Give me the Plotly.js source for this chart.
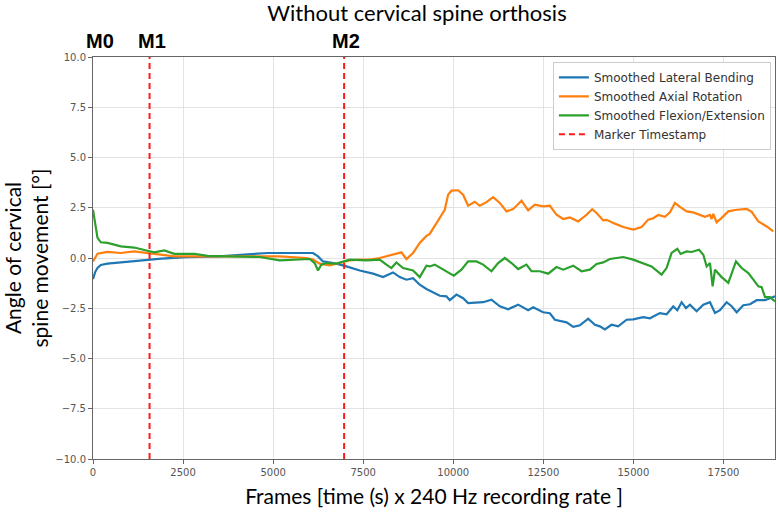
<!DOCTYPE html>
<html>
<head>
<meta charset="utf-8">
<script src="https://cdn.plot.ly/plotly-3.0.1.min.js"></script>
<style>html,body{margin:0;padding:0;background:#fff;}#chart{width:778px;height:514px;}</style>
</head>
<body>
<div id="chart"></div>
<script>
// ---- data (frames, degrees) ----
const blueX = [0,60,125,217,400,770,1144,1514,1900,2600,3500,4300,4850,5300,5829,6106,6245,6384,6662,6967,7403,7773,8051,8328,8514,8699,8884,9069,9255,9347,9486,9625,9810,9903,10088,10273,10412,10643,10828,11060,11292,11523,11801,12078,12217,12494,12681,12820,13005,13144,13329,13514,13745,13931,14069,14208,14393,14578,14810,14995,15273,15458,15736,15921,16107,16218,16338,16458,16569,16754,16940,17125,17264,17403,17588,17727,17866,18051,18236,18421,18653,18792,18931];
const blueY = [-1.05,-0.7,-0.5,-0.35,-0.28,-0.22,-0.17,-0.08,-0.03,0.04,0.08,0.18,0.25,0.25,0.25,0.25,0.08,-0.17,-0.25,-0.38,-0.62,-0.78,-0.95,-0.72,-0.95,-1.08,-1.0,-1.33,-1.54,-1.63,-1.74,-1.88,-1.91,-2.1,-1.82,-2.0,-2.24,-2.2,-2.2,-2.07,-2.4,-2.55,-2.32,-2.6,-2.45,-2.7,-2.75,-3.07,-3.15,-3.2,-3.43,-3.35,-3.02,-3.32,-3.4,-3.55,-3.32,-3.4,-3.07,-3.05,-2.94,-3.0,-2.74,-2.8,-2.41,-2.6,-2.2,-2.49,-2.32,-2.65,-2.32,-2.2,-2.74,-2.6,-2.2,-2.4,-2.7,-2.35,-2.3,-2.1,-2.1,-1.99,-1.91];

const orangeX = [0,60,125,400,770,1144,1514,1850,2255,2800,3600,4625,5180,5921,6106,6291,6569,6847,7125,7403,7681,7958,8328,8560,8699,8884,9069,9255,9347,9486,9625,9764,9856,9950,10134,10273,10412,10597,10736,10922,11106,11292,11478,11661,11894,12078,12264,12494,12681,12867,13050,13236,13467,13700,13856,13978,14161,14254,14486,14717,14994,15228,15411,15550,15689,15875,16014,16153,16292,16478,16661,16847,16986,17125,17172,17217,17311,17494,17633,17867,18144,18283,18467,18700,18883];
const orangeY = [-0.17,0.0,0.21,0.3,0.25,0.33,0.25,0.2,0.08,0.08,0.08,0.11,0.08,0.0,-0.08,-0.28,-0.37,-0.25,-0.12,-0.08,-0.08,0.0,0.16,0.28,-0.05,0.25,0.75,1.1,1.2,1.6,2.05,2.4,3.15,3.35,3.37,3.15,2.6,2.8,2.6,2.78,3.03,2.74,2.32,2.43,2.85,2.37,2.65,2.57,2.6,2.15,1.94,2.02,1.82,2.15,2.43,2.24,1.87,1.9,1.71,1.54,1.41,1.54,1.91,1.98,2.14,2.05,2.27,2.74,2.54,2.32,2.27,2.14,2.05,2.14,1.94,2.2,1.77,2.07,2.32,2.4,2.44,2.3,1.82,1.57,1.32];

const greenX = [0,60,125,217,403,773,1144,1514,1700,1977,2255,2811,3181,3736,4292,4625,5180,5736,6014,6153,6245,6338,6477,6755,6967,7125,7588,7958,8143,8282,8421,8606,8884,9069,9255,9347,9486,9718,10014,10227,10412,10643,10828,11060,11245,11430,11616,11801,12032,12171,12403,12634,12866,13051,13329,13560,13792,13977,14162,14347,14717,14994,15272,15503,15781,15920,16060,16218,16310,16477,16616,16820,16940,17033,17125,17199,17264,17449,17634,17727,17847,18005,18190,18329,18468,18560,18653,18792,18931];
const greenY = [2.4,1.7,1.0,0.78,0.75,0.58,0.52,0.36,0.28,0.38,0.21,0.21,0.11,0.08,0.05,0.05,-0.12,-0.08,-0.05,-0.25,-0.62,-0.33,-0.25,-0.28,-0.17,-0.08,-0.12,-0.08,-0.33,-0.5,-0.22,-0.5,-0.62,-0.95,-0.38,-0.42,-0.33,-0.58,-0.88,-0.58,-0.17,-0.17,-0.33,-0.66,-0.25,0.0,-0.25,-0.55,-0.33,-0.66,-0.66,-0.78,-0.45,-0.58,-0.38,-0.66,-0.58,-0.3,-0.22,-0.05,0.05,-0.08,-0.28,-0.42,-0.83,-0.5,0.25,0.46,0.2,0.33,0.3,0.41,0.16,-0.42,-0.25,-1.41,-0.58,-0.95,-1.24,-0.75,-0.17,-0.5,-0.75,-1.08,-1.41,-1.45,-1.95,-1.95,-2.16];

const markerFrames = [1570, 6970];
const markerLabelFrames = [0, 1570, 6970];
const markerLabels = ['M0', 'M1', 'M2'];
const seriesNames = ['Smoothed Lateral Bending', 'Smoothed Axial Rotation', 'Smoothed Flexion/Extension', 'Marker Timestamp'];
const xTicks = [0, 2500, 5000, 7500, 10000, 12500, 15000, 17500];
const yTicks = [-10, -7.5, -5, -2.5, 0, 2.5, 5, 7.5, 10];
const xMax = 18930;

// ---- traces ----
const mkLine = (x, y, name, color) => ({
  x: x, y: y, name: name, type: 'scatter', mode: 'lines',
  line: {color: color, width: 2.2}
});
const mx = [], my = [];
markerFrames.forEach(f => { mx.push(f, f, null); my.push(-10, 10, null); });

const traces = [
  mkLine(blueX, blueY, seriesNames[0], '#1f77b4'),
  mkLine(orangeX, orangeY, seriesNames[1], '#ff7f0e'),
  mkLine(greenX, greenY, seriesNames[2], '#2ca02c'),
  {x: mx, y: my, name: seriesNames[3], type: 'scatter', mode: 'lines',
   line: {color: '#ff1a1a', width: 2, dash: '6px,4px'}}
];

const annotations = markerLabels.map((t, i) => ({
  text: '<b>' + t + '</b>', x: markerLabelFrames[i], xref: 'x',
  y: 1 + (57.5 - 42) / 401.5, yref: 'paper', yanchor: 'middle', xanchor: 'center',
  showarrow: false, font: {family: 'Liberation Sans, Arial, sans-serif', size: 20, color: '#000'},
  xshift: i === 0 ? 7 : 2
}));

const tickFont = {family: 'DejaVu Sans, sans-serif', size: 10, color: '#555'};
const layout = {
  width: 778, height: 514,
  margin: {l: 93, r: 3, t: 57, b: 55},
  paper_bgcolor: '#fff', plot_bgcolor: '#fff',
  showlegend: true,
  title: {text: 'Without cervical spine orthosis', xref: 'container', x: 0.536, xanchor: 'center',
          yref: 'container', y: 1 - 13/514, yanchor: 'middle',
          font: {family: 'Lato, sans-serif', size: 22, color: '#000'}},
  xaxis: {range: [0, xMax], tickvals: xTicks, ticktext: xTicks.map(String),
          showgrid: true, gridcolor: '#e3e3e3', gridwidth: 1, zeroline: false,
          showline: true, linecolor: '#666', linewidth: 1, mirror: true,
          ticks: 'outside', ticklen: 4, tickcolor: '#666', tickfont: tickFont,
          title: {text: 'Frames [time (s) x 240 Hz recording rate ]', standoff: 12,
                  font: {family: 'Lato, sans-serif', size: 21, color: '#000'}}},
  yaxis: {range: [-10, 10], tickvals: yTicks, tickformat: '.1f',
          showgrid: true, gridcolor: '#e3e3e3', gridwidth: 1, zeroline: false,
          showline: true, linecolor: '#666', linewidth: 1, mirror: true,
          ticks: 'outside', ticklen: 4, tickcolor: '#666', tickfont: tickFont,
          title: {text: 'Angle of cervical<br>spine movement [°]', standoff: 6,
                  font: {family: 'Lato, sans-serif', size: 21, color: '#000'}}},
  legend: {x: 0.994, xanchor: 'right', y: 0.988, yanchor: 'top',
           bgcolor: 'rgba(255,255,255,0.9)', bordercolor: '#cccccc', borderwidth: 1,
           font: {family: 'DejaVu Sans, sans-serif', size: 12, color: '#333'},
           tracegroupgap: 0, itemwidth: 30},
  annotations: annotations
};

Plotly.newPlot('chart', traces, layout, {displayModeBar: false, staticPlot: true});
</script>
</body>
</html>
